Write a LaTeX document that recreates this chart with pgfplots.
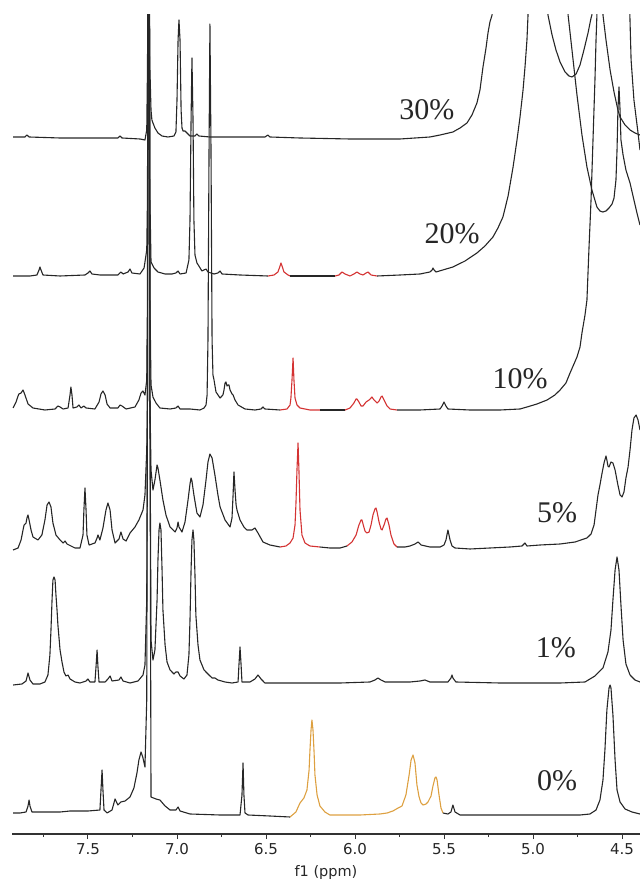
\documentclass[border=0pt]{standalone}
\usepackage{fontspec}
\setmainfont{Liberation Serif}
\newfontfamily\tickfont{DejaVu Sans}
\usepackage{pgfplots}
\pgfplotsset{compat=1.18}
\definecolor{spec}{HTML}{262626}
\definecolor{specred}{HTML}{D43333}
\definecolor{specorange}{HTML}{DDA040}
\begin{document}
\begin{tikzpicture}
\begin{axis}[
  scale only axis, width=628pt, height=819pt,
  xmin=4.399, xmax=7.927, ymin=0, ymax=819,
  x dir=reverse,
  axis y line=none, axis x line=bottom,
  axis line style={-, draw=black!80, line width=1.2pt},
  xtick={4.5,5.0,5.5,6.0,6.5,7.0,7.5},
  minor xtick={4.75,5.25,5.75,6.25,6.75,7.25,7.75},
  xtick align=outside, major tick length=5pt, minor tick length=3pt,
  every tick/.style={draw=black!80, line width=1pt},
  /pgf/number format/assume math mode=true,
  xticklabel style={font=\tickfont\fontsize{15}{17}\selectfont, text=black!85, yshift=-1pt,
    /pgf/number format/fixed, /pgf/number format/fixed zerofill, /pgf/number format/precision=1},
  xlabel={f1 (ppm)},
  xlabel style={font=\tickfont\fontsize{14.5}{16}\selectfont, text=black!85, at={(axis description cs:0.5,0)}, anchor=center, yshift=-38pt},
  sp/.style={color=spec, line width=1.1pt, line join=round, mark=none},
  spr/.style={sp, color=specred},
  spo/.style={sp, color=specorange},
]
\coordinate (tl) at (rel axis cs:0,1);
\coordinate (br) at (rel axis cs:1,0);
% ===== 0% =====
\addplot[sp] coordinates {(7.921,21)(7.882,21)(7.848,22)(7.837,28)(7.831,34)(7.826,28)(7.815,22)(7.753,22)(7.657,22)(7.601,23)(7.500,23)(7.433,24)(7.427,44)(7.421,64)(7.416,44)(7.410,24)(7.393,21)(7.365,24)(7.348,35)(7.332,29)(7.315,32)(7.292,33)(7.264,37)(7.242,46)(7.225,61)(7.214,74)(7.202,82)(7.191,76)(7.180,67)(7.170,134)(7.166,434)(7.162,884)(7.156,884)(7.152,434)(7.146,37)(7.118,35)(7.096,34)(7.067,28)(7.039,24)(7.006,24)(6.994,27)(6.983,23)(6.927,20)(6.758,19)(6.646,19)(6.635,39)(6.629,71)(6.624,39)(6.618,21)(6.601,19)(6.478,18)(6.365,17)};
\addplot[spo] coordinates {(6.365,17)(6.332,22)(6.309,31)(6.287,36)(6.270,44)(6.258,64)(6.253,84)(6.247,104)(6.242,114)(6.236,104)(6.230,82)(6.225,59)(6.213,39)(6.197,28)(6.169,22)(6.141,19)(6.084,19)(5.972,19)(5.860,20)(5.820,21)(5.787,23)(5.758,26)(5.736,28)(5.714,39)(5.696,59)(5.685,74)(5.674,79)(5.663,71)(5.652,49)(5.640,37)(5.629,31)(5.618,29)(5.601,30)(5.590,32)(5.573,38)(5.562,48)(5.551,56)(5.545,57)(5.539,54)(5.528,39)(5.517,26)(5.506,21)};
\addplot[sp] coordinates {(5.506,21)(5.478,20)(5.461,22)(5.450,29)(5.438,22)(5.410,19)(5.185,19)(4.905,19)(4.736,19)(4.680,20)(4.646,24)(4.624,34)(4.607,54)(4.596,84)(4.585,124)(4.573,146)(4.567,149)(4.562,146)(4.551,119)(4.539,74)(4.528,44)(4.511,32)(4.483,25)(4.444,22)(4.399,20)};
% ===== 1% =====
\addplot[sp] coordinates {(7.921,149)(7.871,150)(7.848,153)(7.837,161)(7.826,154)(7.809,150)(7.770,150)(7.742,152)(7.725,159)(7.714,179)(7.708,204)(7.702,234)(7.697,254)(7.691,257)(7.685,254)(7.680,239)(7.674,224)(7.669,209)(7.657,184)(7.646,172)(7.635,162)(7.624,158)(7.612,159)(7.601,155)(7.573,152)(7.545,151)(7.511,153)(7.500,155)(7.489,152)(7.461,152)(7.455,167)(7.449,184)(7.444,167)(7.438,152)(7.404,152)(7.388,155)(7.376,158)(7.365,153)(7.326,154)(7.315,157)(7.303,153)(7.264,151)(7.219,153)(7.191,159)(7.180,169)(7.170,234)(7.166,434)(7.162,884)(7.156,884)(7.152,434)(7.146,194)(7.135,174)(7.124,184)(7.112,234)(7.107,274)(7.101,304)(7.096,311)(7.090,304)(7.084,264)(7.079,224)(7.067,189)(7.056,172)(7.039,164)(7.017,160)(7.006,162)(6.994,162)(6.983,158)(6.961,155)(6.944,159)(6.933,179)(6.927,214)(6.921,264)(6.916,294)(6.910,304)(6.905,294)(6.899,259)(6.894,219)(6.882,189)(6.871,174)(6.848,164)(6.826,160)(6.803,156)(6.787,156)(6.770,154)(6.730,152)(6.691,151)(6.657,152)(6.652,169)(6.646,187)(6.640,169)(6.635,152)(6.590,152)(6.562,155)(6.545,159)(6.528,155)(6.506,151)(6.309,151)(6.084,151)(5.916,152)(5.888,154)(5.871,156)(5.854,154)(5.831,152)(5.691,152)(5.635,153)(5.607,154)(5.579,152)(5.478,152)(5.461,156)(5.455,159)(5.450,156)(5.433,152)(5.185,151)(4.848,151)(4.708,152)(4.652,158)(4.607,166)(4.579,182)(4.562,204)(4.551,234)(4.539,264)(4.528,277)(4.517,264)(4.506,229)(4.494,194)(4.478,170)(4.455,159)(4.427,154)(4.399,152)};
% ===== 5% =====
\addplot[sp] coordinates {(7.921,284)(7.893,286)(7.876,294)(7.865,304)(7.859,309)(7.848,311)(7.843,316)(7.837,319)(7.831,314)(7.820,304)(7.809,297)(7.781,294)(7.759,299)(7.742,314)(7.730,329)(7.719,332)(7.708,327)(7.697,311)(7.680,299)(7.657,294)(7.640,291)(7.629,293)(7.618,290)(7.573,286)(7.545,286)(7.528,299)(7.523,324)(7.517,346)(7.511,324)(7.506,299)(7.494,289)(7.461,291)(7.449,296)(7.444,299)(7.433,294)(7.416,306)(7.399,324)(7.388,331)(7.376,324)(7.365,304)(7.348,291)(7.326,295)(7.315,302)(7.303,295)(7.286,293)(7.264,301)(7.236,307)(7.214,314)(7.191,324)(7.180,339)(7.170,384)(7.166,434)(7.162,884)(7.156,884)(7.152,434)(7.146,364)(7.135,344)(7.124,354)(7.112,369)(7.107,366)(7.096,354)(7.079,334)(7.062,319)(7.039,307)(7.011,302)(7.000,306)(6.994,312)(6.989,307)(6.972,302)(6.955,312)(6.938,334)(6.927,350)(6.921,356)(6.916,353)(6.905,339)(6.888,321)(6.871,317)(6.854,329)(6.837,354)(6.826,372)(6.815,380)(6.803,376)(6.787,359)(6.770,339)(6.758,327)(6.730,314)(6.702,307)(6.691,316)(6.685,339)(6.680,362)(6.674,344)(6.668,329)(6.663,324)(6.646,314)(6.624,307)(6.607,304)(6.579,304)(6.562,306)(6.545,301)(6.517,292)(6.478,289)(6.421,287)};
\addplot[spr] coordinates {(6.421,287)(6.388,288)(6.365,291)(6.348,296)(6.337,309)(6.332,329)(6.326,364)(6.320,391)(6.315,364)(6.309,324)(6.298,299)(6.281,291)(6.253,288)(6.197,287)};
\addplot[sp] coordinates {(6.197,287)(6.141,286)(6.084,286)(6.045,288)};
\addplot[spr] coordinates {(6.045,288)(6.017,292)(5.994,299)(5.978,309)(5.966,314)(5.961,314)(5.955,310)(5.944,303)(5.933,301)(5.921,302)(5.910,309)(5.899,319)(5.888,325)(5.882,326)(5.876,322)(5.865,312)(5.854,305)(5.848,304)(5.837,309)(5.826,315)(5.820,316)(5.809,309)(5.798,299)(5.781,290)(5.764,287)};
\addplot[sp] coordinates {(5.764,287)(5.719,287)(5.691,288)(5.663,290)(5.646,292)(5.629,289)(5.579,287)(5.522,287)(5.500,289)(5.489,294)(5.478,304)(5.466,294)(5.455,288)(5.438,286)(5.354,285)(5.242,286)(5.129,287)(5.062,288)(5.045,291)(5.034,288)(4.961,289)(4.848,290)(4.764,292)(4.697,296)(4.674,300)(4.657,309)(4.646,324)(4.635,339)(4.624,349)(4.612,361)(4.601,371)(4.590,378)(4.585,374)(4.579,368)(4.573,367)(4.562,372)(4.551,371)(4.539,364)(4.523,349)(4.511,339)(4.500,337)(4.489,342)(4.478,356)(4.466,367)(4.455,384)(4.444,404)(4.433,416)(4.421,419)(4.410,414)(4.399,404)};
% ===== 10% =====
\addplot[sp] coordinates {(7.921,426)(7.904,432)(7.893,438)(7.888,440)(7.876,441)(7.865,444)(7.854,439)(7.837,430)(7.809,426)(7.742,424)(7.685,425)(7.669,428)(7.657,427)(7.640,425)(7.612,426)(7.601,439)(7.596,447)(7.590,439)(7.584,426)(7.562,427)(7.551,429)(7.539,426)(7.523,428)(7.511,426)(7.461,425)(7.438,432)(7.427,440)(7.416,443)(7.404,439)(7.393,430)(7.376,426)(7.332,426)(7.320,429)(7.309,428)(7.286,425)(7.236,427)(7.214,434)(7.202,441)(7.191,443)(7.180,439)(7.170,454)(7.166,534)(7.162,884)(7.156,884)(7.152,534)(7.146,449)(7.135,437)(7.118,431)(7.096,426)(7.039,425)(7.006,426)(6.994,428)(6.983,425)(6.927,425)(6.871,424)(6.848,426)(6.837,429)(6.831,439)(6.826,494)(6.820,684)(6.815,810)(6.809,684)(6.803,494)(6.798,459)(6.792,454)(6.781,442)(6.758,436)(6.742,439)(6.736,444)(6.730,451)(6.725,452)(6.719,448)(6.713,449)(6.708,449)(6.702,444)(6.691,440)(6.685,439)(6.674,434)(6.657,429)(6.618,425)(6.562,424)(6.528,425)(6.517,427)(6.506,425)(6.421,424)};
\addplot[spr] coordinates {(6.421,424)(6.382,425)(6.365,429)(6.360,436)(6.354,454)(6.348,476)(6.343,454)(6.337,436)(6.326,429)(6.309,426)(6.253,424)(6.197,424)};
\addplot[sp] coordinates {(6.197,424)(6.141,424)(6.056,424)};
\addplot[spr] coordinates {(6.056,424)(6.028,426)(6.006,431)(5.994,435)(5.989,435)(5.978,432)(5.966,428)(5.955,428)(5.938,432)(5.921,434)(5.910,436)(5.905,437)(5.893,434)(5.876,431)(5.865,433)(5.854,437)(5.848,438)(5.837,434)(5.820,428)(5.803,425)(5.764,424)};
\addplot[sp] coordinates {(5.764,424)(5.635,424)(5.522,425)(5.511,428)(5.500,432)(5.489,428)(5.478,425)(5.354,424)(5.185,424)(5.073,425)(5.034,427)(4.978,430)(4.921,434)(4.877,439)(4.848,444)(4.815,451)(4.792,461)(4.770,470)(4.753,477)(4.736,487)(4.725,501)(4.708,519)(4.697,534)(4.686,584)(4.674,634)(4.663,694)(4.652,754)(4.646,794)(4.641,819)(4.635,884)(4.466,884)(4.449,774)(4.433,734)(4.410,701)(4.399,684)};
% ===== 20% =====
\addplot[sp] coordinates {(7.921,558)(7.826,558)(7.787,559)(7.775,564)(7.770,567)(7.764,564)(7.753,559)(7.657,558)(7.517,559)(7.500,561)(7.489,563)(7.478,560)(7.433,559)(7.332,559)(7.315,562)(7.303,560)(7.275,562)(7.264,565)(7.253,561)(7.208,560)(7.185,566)(7.170,584)(7.166,634)(7.162,884)(7.156,884)(7.152,634)(7.146,572)(7.129,566)(7.107,562)(7.067,560)(7.028,560)(7.006,561)(6.994,563)(6.983,560)(6.949,561)(6.933,574)(6.927,614)(6.921,714)(6.916,776)(6.910,714)(6.905,614)(6.899,579)(6.888,571)(6.877,568)(6.860,563)(6.837,565)(6.826,562)(6.792,560)(6.770,561)(6.758,563)(6.747,560)(6.646,559)(6.489,558)};
\addplot[spr] coordinates {(6.489,558)(6.455,559)(6.433,562)(6.421,568)(6.416,571)(6.410,568)(6.399,562)(6.376,559)(6.365,558)};
\addplot[sp] coordinates {(6.365,558)(6.253,558)(6.112,558)};
\addplot[spr] coordinates {(6.112,558)(6.090,559)(6.073,562)(6.056,560)(6.028,558)(6.006,560)(5.989,562)(5.972,560)(5.955,559)(5.938,561)(5.927,562)(5.910,559)(5.876,558)};
\addplot[sp] coordinates {(5.876,558)(5.747,559)(5.635,560)(5.579,562)(5.567,564)(5.562,566)(5.556,564)(5.545,562)(5.450,567)(5.382,573)(5.315,581)(5.270,588)(5.225,597)(5.197,606)(5.169,617)(5.140,638)(5.112,667)(5.090,694)(5.073,717)(5.056,744)(5.045,767)(5.034,794)(5.028,819)(5.023,884)(4.815,884)(4.803,819)(4.781,784)(4.753,739)(4.725,699)(4.697,667)(4.669,644)(4.641,627)(4.624,623)(4.607,622)(4.590,623)(4.573,626)(4.556,630)(4.545,636)(4.534,654)(4.528,684)(4.523,724)(4.517,747)(4.511,724)(4.506,694)(4.494,679)(4.478,664)(4.455,651)(4.433,634)(4.416,621)(4.399,609)};
% ===== 30% =====
\addplot[sp] coordinates {(7.921,697)(7.854,697)(7.843,699)(7.831,697)(7.657,696)(7.489,696)(7.332,696)(7.320,698)(7.309,696)(7.208,695)(7.180,694)(7.170,704)(7.166,764)(7.162,884)(7.156,884)(7.152,764)(7.146,724)(7.141,714)(7.135,711)(7.124,706)(7.107,701)(7.084,698)(7.051,697)(7.017,698)(7.006,702)(7.000,734)(6.994,794)(6.989,814)(6.983,794)(6.977,724)(6.972,706)(6.966,703)(6.955,703)(6.944,701)(6.927,698)(6.899,698)(6.888,700)(6.877,698)(6.815,697)(6.702,697)(6.506,697)(6.489,699)(6.478,697)(6.309,696)(6.028,695)(5.747,695)(5.579,697)(5.522,699)(5.450,702)(5.410,706)(5.371,711)(5.343,719)(5.315,731)(5.298,744)(5.281,767)(5.264,786)(5.253,801)(5.242,812)(5.230,819)(5.225,884)(4.927,884)(4.916,819)(4.893,799)(4.871,784)(4.848,772)(4.820,762)(4.798,758)(4.781,757)(4.758,760)(4.736,769)(4.714,784)(4.691,801)(4.674,816)(4.669,819)(4.663,884)(4.612,884)(4.607,819)(4.590,794)(4.567,764)(4.545,742)(4.523,724)(4.511,717)(4.483,709)(4.455,704)(4.427,701)(4.399,699)};
% labels
\node[font=\fontsize{30}{32}\selectfont, text=black!85] at (axis cs:5.596,724) {30\%};
\node[font=\fontsize{30}{32}\selectfont, text=black!85] at (axis cs:5.455,600) {20\%};
\node[font=\fontsize{30}{32}\selectfont, text=black!85] at (axis cs:5.073,455) {10\%};
\node[font=\fontsize{30}{32}\selectfont, text=black!85] at (axis cs:4.865,321) {5\%};
\node[font=\fontsize{30}{32}\selectfont, text=black!85] at (axis cs:4.871,186) {1\%};
\node[font=\fontsize{30}{32}\selectfont, text=black!85] at (axis cs:4.865,53) {0\%};
\end{axis}
\pgfresetboundingbox
\path ([shift={(-12pt,15pt)}]tl) rectangle ([shift={(0pt,-45pt)}]br);
\end{tikzpicture}
\end{document}
